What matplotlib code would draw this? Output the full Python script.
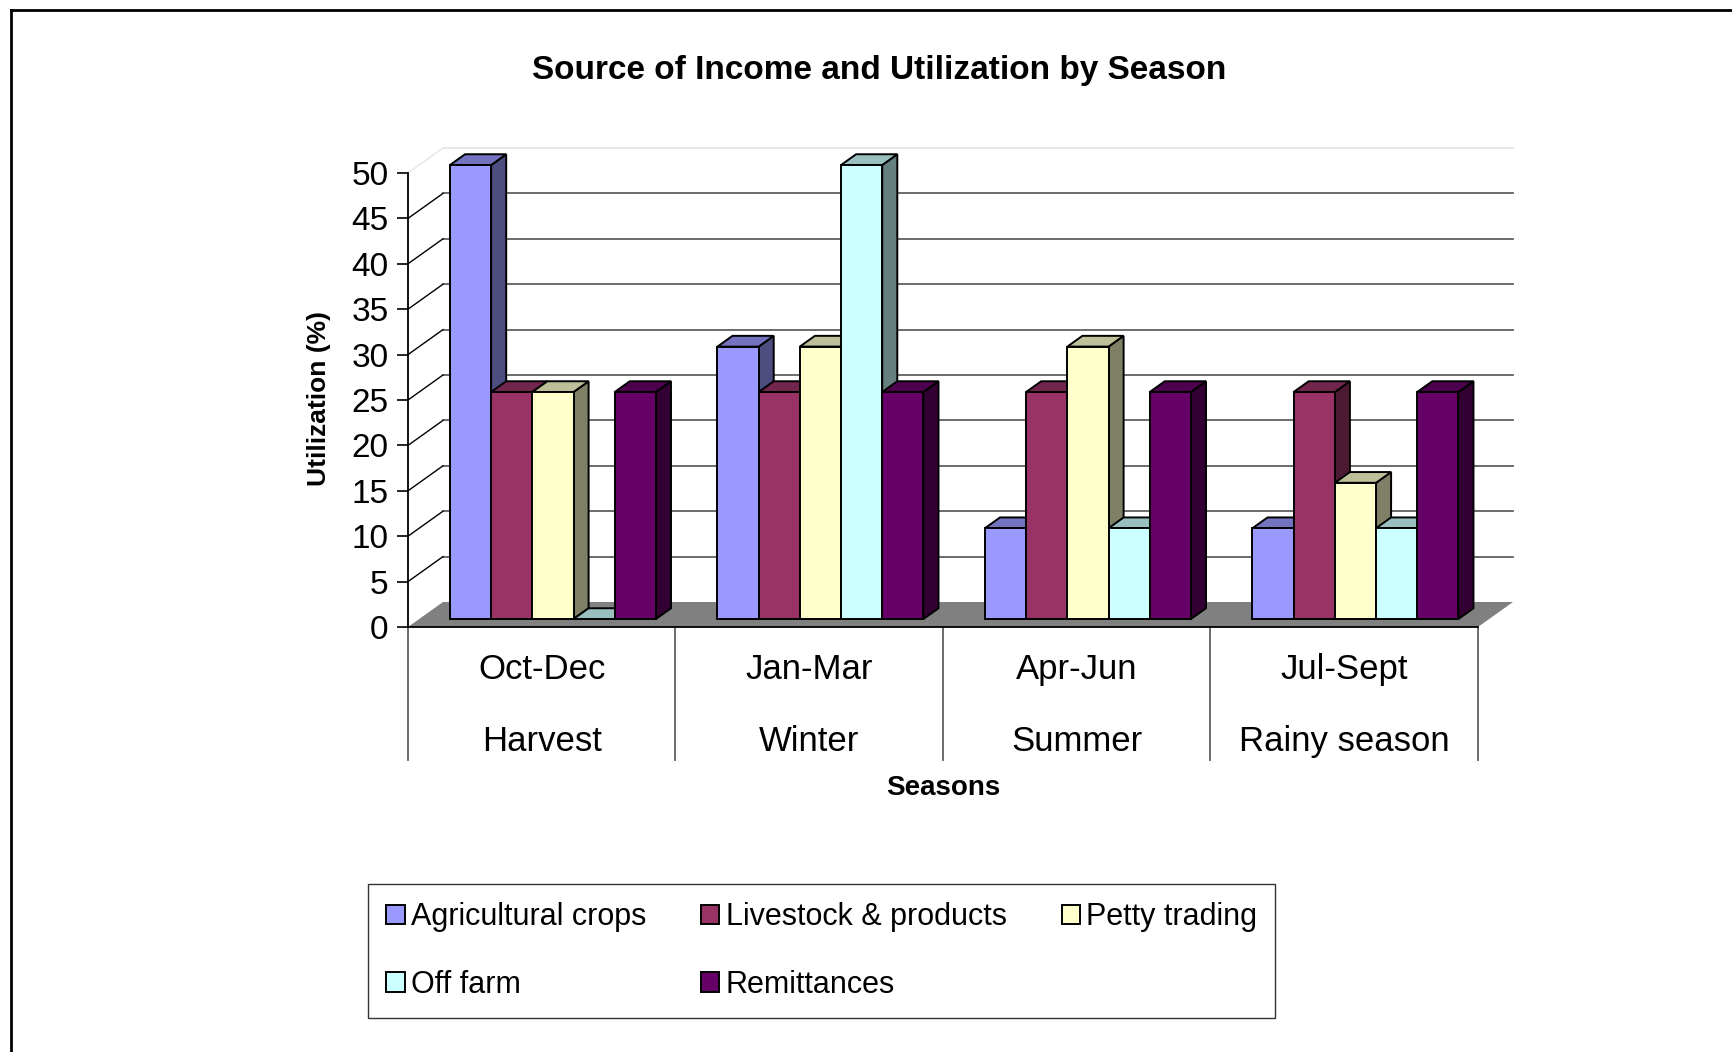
import matplotlib
matplotlib.use("Agg")
import matplotlib.pyplot as plt
from matplotlib.patches import Polygon, Patch
import numpy as np

plt.rcParams['font.family'] = ['Liberation Sans', 'DejaVu Sans']

# data
seasons = ["Oct-Dec", "Jan-Mar", "Apr-Jun", "Jul-Sept"]
season_names = ["Harvest", "Winter", "Summer", "Rainy season"]
sources = ["Agricultural crops", "Livestock & products", "Petty trading",
           "Off farm", "Remittances"]
agri = [50, 30, 10, 10]
livestock = [25, 25, 25, 25]
petty = [25, 30, 30, 15]
off_farm = [0, 50, 10, 10]
remittances = [25, 25, 25, 25]
series = [agri, livestock, petty, off_farm, remittances]
yticks = list(range(0, 51, 5))

colors = ["#9999FF", "#993366", "#FFFFCC", "#CCFFFF", "#660066"]


def shade(c, f):
    rgb = np.array(matplotlib.colors.to_rgb(c))
    return tuple(rgb * f)


W, H = 1733, 1052
fig = plt.figure(figsize=(W / 100, H / 100), dpi=100)
fig.patch.set_facecolor("white")

# front plane of the 3-D box, in pixels
x_left, x_right = 408, 1478
y_zero, y_top = 627, 173
ax = fig.add_axes([x_left / W, 1 - y_zero / H,
                   (x_right - x_left) / W, (y_zero - y_top) / H])
ax.set_xlim(0, 4)
ax.set_ylim(0, 50)
ax.patch.set_visible(False)

# depth offsets (data units)
px_x = (x_right - x_left) / 4.0
px_y = (y_zero - y_top) / 50.0
DX = 35 / px_x
DY = 25 / px_y

# back wall gridlines and left wall diagonals
for v in yticks[1:]:
    gc = "#E6E6E6" if v == 50 else "#606060"
    ax.plot([DX, 4 + DX], [v + DY, v + DY], color=gc, lw=1.3,
            clip_on=False, zorder=1)
    dc = "#E6E6E6" if v == 50 else "black"
    ax.plot([0, DX], [v, v + DY], color=dc, lw=1.0, clip_on=False, zorder=1)

# floor
ax.add_patch(Polygon([(0, 0), (4, 0), (4 + DX, DY), (DX, DY)],
                     closed=True, facecolor="#808080", edgecolor="none",
                     clip_on=False, zorder=2))

# bars
d0, d1 = 0.32, 0.75
bw = 0.154
start = 0.115
for i in range(len(seasons)):
    for k, vals in enumerate(series):
        v = vals[i]
        x0 = i + start + k * bw
        x1 = x0 + bw
        fx0, fx1 = x0 + d0 * DX, x1 + d0 * DX
        bx0, bx1 = x0 + d1 * DX, x1 + d1 * DX
        fy, by = d0 * DY, d1 * DY
        kw = dict(closed=True, edgecolor="black", lw=1.4, clip_on=False,
                  joinstyle="miter", zorder=3)
        ax.add_patch(Polygon([(fx1, fy), (bx1, by), (bx1, v + by), (fx1, v + fy)],
                             facecolor=shade(colors[k], 0.5), **kw))
        ax.add_patch(Polygon([(fx0, v + fy), (fx1, v + fy), (bx1, v + by), (bx0, v + by)],
                             facecolor=shade(colors[k], 0.75), **kw))
        if v > 0:
            ax.add_patch(Polygon([(fx0, fy), (fx1, fy), (fx1, v + fy), (fx0, v + fy)],
                                 facecolor=colors[k], **kw))

# axes lines
for s in ["top", "right"]:
    ax.spines[s].set_visible(False)
ax.spines["left"].set_color("black")
ax.spines["left"].set_linewidth(1.3)
ax.spines["bottom"].set_color("black")
ax.spines["bottom"].set_linewidth(1.3)
ax.spines["bottom"].set_zorder(4)
ax.set_yticks(yticks)
ax.set_yticklabels([str(t) for t in yticks])
ax.tick_params(axis="y", direction="out", length=8, width=1.2, pad=6,
               labelsize=24, colors="black")
ax.set_xticks([])

# category divider lines and two-level labels
xt = ax.get_xaxis_transform()
for b in range(len(seasons) + 1):
    ax.plot([b, b], [0, -0.293], transform=xt, color="#606060", lw=1.3,
            clip_on=False, zorder=1)
for i in range(len(seasons)):
    ax.text(i + 0.5, -0.093, seasons[i], transform=xt, ha="center",
            va="center", fontsize=25)
    ax.text(i + 0.5, -0.252, season_names[i], transform=xt, ha="center",
            va="center", fontsize=25)

ax.text(2.0, -0.3546, "Seasons", transform=xt, ha="center", va="center",
        fontsize=20, fontweight="bold")
fig.text(319 / W, 1 - 398 / H, "Utilization (%)", rotation=90, ha="center",
         va="center", fontsize=19, fontweight="bold")
fig.text(879 / W, 1 - 71 / H, "Source of Income and Utilization by Season",
         ha="center", va="center", fontsize=24, fontweight="bold")

# legend: rows A L P / O R
order = [0, 3, 1, 4, 2]
handles = [Patch(facecolor=colors[k], edgecolor="black", lw=1.4) for k in order]
labels = [sources[k] for k in order]
leg = fig.legend(handles, labels, loc="upper left",
                 bbox_to_anchor=(368 / W, 1 - 884 / H), ncol=3, fontsize=22,
                 frameon=True, fancybox=False, edgecolor="black",
                 handlelength=0.6, handleheight=0.6, handletextpad=0.2,
                 columnspacing=1.8, labelspacing=1.23, borderpad=0.6,
                 borderaxespad=0)
leg.get_frame().set_linewidth(1.0)

# outer border (only top and left edges fall inside the image)
fig.add_artist(plt.Line2D([11 / W, 11 / W], [0, 1 - 10 / H], color="black",
                          lw=2, transform=fig.transFigure))
fig.add_artist(plt.Line2D([11 / W, 1], [1 - 10 / H, 1 - 10 / H], color="black",
                          lw=2, transform=fig.transFigure))

fig.savefig("out.png", dpi=100)
